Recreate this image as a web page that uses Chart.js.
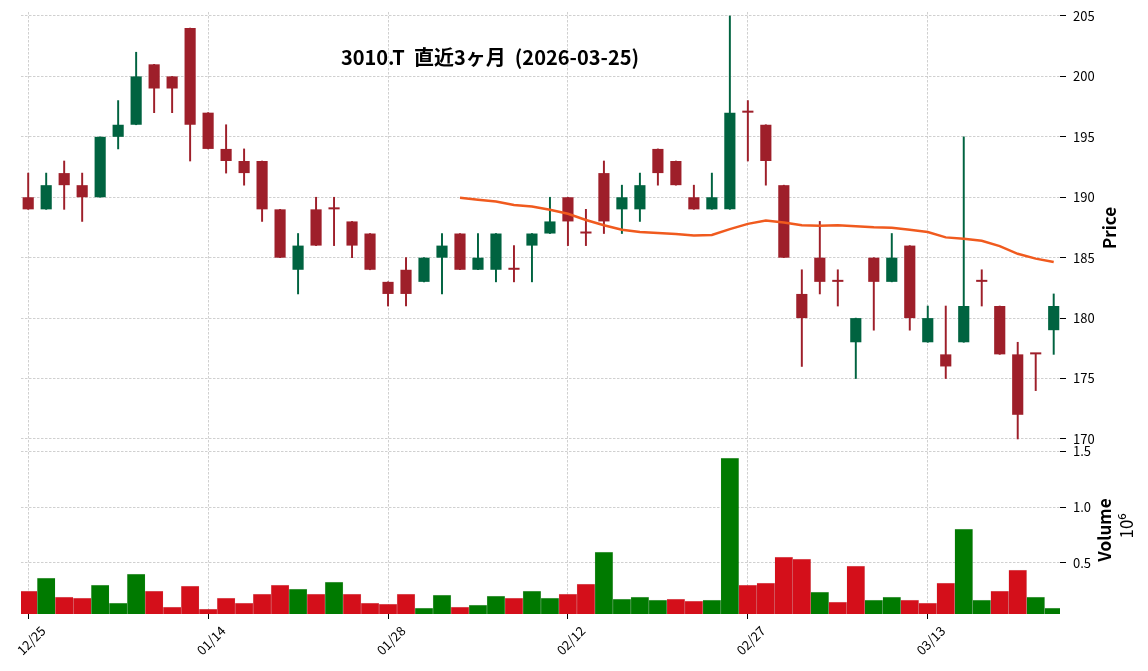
<!DOCTYPE html>
<html>
<head>
<meta charset="utf-8">
<script src="https://cdn.jsdelivr.net/npm/chart.js@4.4.1/dist/chart.umd.min.js"></script>
<style>
  html, body { margin: 0; padding: 0; background: #fff; }
  #wrap { width: 1148px; height: 671px; position: relative; }
</style>
</head>
<body>
<div id="wrap"><canvas id="chart"></canvas></div>
<script>
// trading days shown on the chart
const dates = ['12/25','12/26','12/29','12/30','01/05','01/06','01/07','01/08','01/09','01/13',
  '01/14','01/15','01/16','01/19','01/20','01/21','01/22','01/23','01/26','01/27',
  '01/28','01/29','01/30','02/02','02/03','02/04','02/05','02/06','02/09','02/10',
  '02/12','02/13','02/16','02/17','02/18','02/19','02/20','02/24','02/25','02/26',
  '02/27','03/02','03/03','03/04','03/05','03/06','03/09','03/10','03/11','03/12',
  '03/13','03/16','03/17','03/18','03/19','03/23','03/24','03/25']

const opens = [190,189,192,191,190,195,196,201,200,204,
  197,194,193,193,189,184,189,189,188,187,
  183,184,183,185,187,184,184,184,186,187,
  190,187,192,189,189,194,193,190,189,189,
  197,196,191,182,185,183,178,185,183,186,
  178,177,178,183,181,177,177,179]
const highs = [192,192,193,192,195,198,202,201,200,204,
  197,196,194,193,189,187,190,190,188,187,
  183,185,185,187,187,187,187,186,187,190,
  190,189,193,191,192,194,193,191,192,205,
  198,196,191,184,188,184,180,185,187,186,
  181,181,195,184,181,178,177,182]
const lows = [189,189,189,188,190,194,196,197,197,193,
  194,192,191,188,185,182,186,186,185,184,
  181,181,183,182,184,184,183,183,183,187,
  186,186,187,187,188,191,191,189,189,189,
  193,191,185,176,182,181,175,179,183,179,
  178,175,178,181,177,170,174,177]
const closes = [189,191,191,190,195,196,200,199,199,196,
  194,193,192,189,185,186,186,189,186,184,
  182,182,185,186,184,185,187,184,187,188,
  188,187,188,190,191,192,191,189,190,197,
  197,193,185,180,183,183,180,183,185,180,
  180,176,181,183,177,172,177,181]
const volumes = [245000,362000,192000,183000,300000,138000,398000,245000,102000,290000,
  84000,183000,138000,219000,300000,263000,219000,326000,219000,138000,
  129000,219000,93000,210000,102000,120000,200000,183000,245000,183000,
  219000,308000,596000,174000,192000,165000,174000,156000,165000,1440000,
  300000,317000,551000,533000,237000,147000,470000,165000,192000,165000,
  138000,317000,802000,165000,245000,434000,192000,93000]
// 25-day moving average
const ma25 = [null,null,null,null,null,null,null,null,null,null,
  null,null,null,null,null,null,null,null,null,null,
  null,null,null,null,189.96,189.80,189.64,189.36,189.24,188.96,
  188.64,188.12,187.68,187.32,187.12,187.04,186.96,186.84,186.88,187.36,
  187.80,188.08,187.92,187.68,187.64,187.68,187.60,187.52,187.48,187.32,
  187.12,186.68,186.56,186.40,185.96,185.32,184.92,184.64]

const dateTicks = [0, 10, 20, 30, 40, 50]
const priceTicks = [170, 175, 180, 185, 190, 195, 200, 205]
const volumeTicks = [500000, 1000000, 1500000]

const titleText = '3010.T  直近3ヶ月  (2026-03-25)'
const FONT = '"Noto Sans CJK JP", "Noto Sans", sans-serif'

const UP = '#006340'
const DOWN = '#9e1f2a'
const VOL_UP = '#007a00'
const VOL_DOWN = '#d40f1a'

const candleColors = closes.map((c, i) => c > opens[i] ? UP : DOWN)
const volColors = closes.map((c, i) => (i > 0 && c > closes[i - 1]) ? VOL_UP : VOL_DOWN)

const wicks = dates.map((d, i) => ({ x: i, y: [lows[i], highs[i]] }))
const bodies = dates.map((d, i) => ({ x: i, y: [opens[i], closes[i]] }))
const volBars = dates.map((d, i) => ({ x: i, y: volumes[i] }))
const maPoints = dates.map((d, i) => ({ x: i, y: ma25[i] }))

const gridOpts = {
  color: '#c4c4c4',
  lineWidth: 0.8,
  offset: false,
  tickColor: '#000',
  tickWidth: 1,
  tickBorderDash: []
}
const gridDash = { display: false, dash: [2.5, 1.5] }

// fixed right gutter, and no extra room for the end tick labels
const fitRight = s => {
  s.width = 88
  s.paddingTop = 0
  s.paddingBottom = 0
}

// title and axis labels live inside / beside the plot, so draw them by hand
const labelsPlugin = {
  id: 'labels',
  afterDraw (chart) {
    const ctx = chart.ctx
    ctx.save()
    ctx.fillStyle = '#000'
    ctx.textBaseline = 'middle'
    ctx.textAlign = 'center'
    ctx.font = 'bold 20px ' + FONT
    ctx.fillText(titleText, 490, 57)

    const vertical = (text, x, y, font) => {
      ctx.save()
      ctx.translate(x, y)
      ctx.rotate(-Math.PI / 2)
      ctx.font = font
      ctx.fillText(text, 0, 0)
      ctx.restore()
    }
    vertical('Price', 1110, 228, 'bold 17px ' + FONT)
    vertical('Volume', 1105, 530, 'bold 17px ' + FONT)
    vertical('10⁶', 1127, 526, '17px ' + FONT)
    ctx.restore()
  }
}

new Chart(document.getElementById('chart'), {
  type: 'bar',
  data: {
    datasets: [
      {
        type: 'line',
        data: maPoints,
        yAxisID: 'y',
        borderColor: '#f05a1e',
        borderWidth: 2.5,
        pointRadius: 0,
        spanGaps: false,
        order: 0
      },
      {
        data: bodies,
        yAxisID: 'y',
        backgroundColor: candleColors,
        barPercentage: 0.62,
        categoryPercentage: 1,
        minBarLength: 2,
        grouped: false,
        order: 1
      },
      {
        data: wicks,
        yAxisID: 'y',
        backgroundColor: candleColors,
        barThickness: 1.3,
        grouped: false,
        order: 2
      },
      {
        data: volBars,
        yAxisID: 'vol',
        backgroundColor: volColors,
        borderColor: 'rgba(0,0,0,0.12)',
        borderWidth: 0.5,
        barPercentage: 1,
        categoryPercentage: 1,
        grouped: false,
        order: 3
      }
    ]
  },
  options: {
    responsive: true,
    maintainAspectRatio: false,
    animation: false,
    layout: { padding: { left: 21, top: 12, right: 0, bottom: 0 } },
    plugins: {
      legend: { display: false },
      tooltip: { enabled: false },
      title: { display: false }
    },
    scales: {
      x: {
        type: 'linear',
        offset: false,
        min: -0.4,
        max: 57.35,
        afterBuildTicks: s => { s.ticks = dateTicks.map(v => ({ value: v })) },
        afterFit: s => { s.height = 57 },
        grid: Object.assign({}, gridOpts, { tickLength: 5 }),
        border: gridDash,
        ticks: {
          color: '#000',
          font: { family: FONT, size: 13 },
          minRotation: 45,
          maxRotation: 45,
          labelOffset: 15,
          padding: 4,
          callback: v => dates[v]
        }
      },
      y: {
        type: 'linear',
        position: 'right',
        stack: 'panels',
        stackWeight: 433,
        min: 169.5,
        max: 205.33,
        afterBuildTicks: s => { s.ticks = priceTicks.map(v => ({ value: v })) },
        afterFit: fitRight,
        grid: Object.assign({}, gridOpts, { tickLength: 6 }),
        border: gridDash,
        ticks: {
          color: '#000',
          font: { family: FONT, size: 13 },
          padding: 7
        }
      },
      vol: {
        type: 'linear',
        position: 'right',
        stack: 'panels',
        stackWeight: 169,
        min: 39600,
        max: 1556600,
        afterBuildTicks: s => { s.ticks = volumeTicks.map(v => ({ value: v })) },
        afterFit: fitRight,
        grid: Object.assign({}, gridOpts, { tickLength: 6 }),
        border: gridDash,
        ticks: {
          color: '#000',
          font: { family: FONT, size: 13 },
          padding: 7,
          callback: v => (v / 1e6).toFixed(1)
        }
      }
    }
  },
  plugins: [labelsPlugin]
})
</script>
</body>
</html>
